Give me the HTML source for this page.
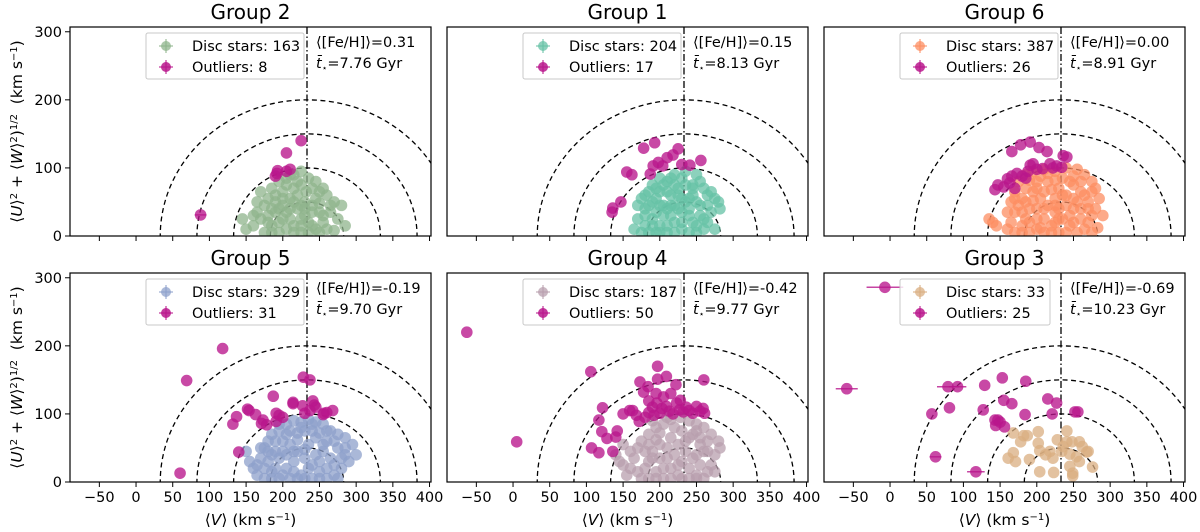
<!DOCTYPE html>
<html><head><meta charset="utf-8"><style>
html,body{margin:0;padding:0;background:#fff;width:1200px;height:532px;overflow:hidden}
svg{display:block;font-family:"DejaVu Sans","Liberation Sans",sans-serif}
</style></head><body>
<svg id="chart" width="1200" height="532" viewBox="0 0 1200 532" xmlns="http://www.w3.org/2000/svg"></svg>
<script>
// ---- data ----
const panelTitles = ["Group 2","Group 1","Group 6","Group 5","Group 4","Group 3"];
const discCounts = [163,204,387,329,187,33];
const outlierCounts = [8,17,26,31,50,25];
const fehValues = ["0.31","0.15","0.00","-0.19","-0.42","-0.69"];
const ageValues = ["7.76","8.13","8.91","9.70","9.77","10.23"];
const discColors = ["#8fb48c","#66c2a5","#fc8d62","#8da0cb","#b89fae","#d9ad80"];
const xTicks = [-50,0,50,100,150,200,250,300,350,400];
const yTicks = [0,100,200,300];
const circleRadii = [50,100,150,200];
const vLsr = 233;

const disc2 = [[150,10],[160,15],[145,25],[165,35],[175,45],[180,55],[170,65],[185,70],[195,80],[205,85],[215,90],[225,75],[235,85],[240,70],[250,65],[260,60],[270,50],[280,45],[285,15],[275,25],[265,35],[255,20],[245,10],[235,5],[225,15],[215,5],[205,10],[195,20],[185,15],[175,5],[190,35],[200,45],[210,55],[220,40],[230,30],[240,45],[250,35],[210,25],[200,65],[220,60],[230,50],[190,50],[180,30],[245,55],[260,10],[170,25],[215,70],[235,20],[225,95],[205,35],
[185,5],[195,5],[225,5],[250,5],[270,8],[180,20],[200,25],[215,15],[225,25],[240,15],[255,30],[265,45],[190,60],[205,75],[220,80],[232,65],[245,80],[210,40],[195,40],[185,40],[225,45],[240,35],[250,48],[215,50],[200,55],[230,40],[160,30],[165,50],[255,70],[210,90]];
const out2 = [[190,88],[192,92],[193,96],[205,122],[205,95],[210,98],[225,140],[88,31]];
const outErr2 = [0,0,0,0,0,0,0,8];

const disc1 = [[165,10],[175,5],[170,25],[180,40],[175,55],[185,65],[190,75],[200,85],[210,80],[220,90],[235,95],[250,90],[255,80],[260,70],[265,60],[275,55],[280,50],[282,40],[270,35],[260,25],[250,15],[240,5],[230,10],[220,20],[210,5],[200,15],[190,25],[185,45],[195,55],[205,45],[215,60],[225,70],[235,50],[245,60],[255,45],[240,30],[230,35],[220,45],[200,65],[205,30],[265,20],[275,10],[215,30],[245,75],[180,15],
[185,5],[195,5],[200,5],[220,5],[250,5],[260,10],[190,15],[210,15],[230,20],[245,20],[255,30],[180,30],[195,35],[210,40],[225,40],[240,40],[250,50],[190,50],[200,45],[215,45],[230,55],[240,55],[195,70],[210,65],[225,60],[245,70],[205,75],[220,75],[235,75],[230,85],[215,85],[180,60],[170,45],[265,45],[270,65]];
const out1 = [[178,129],[193,137],[225,128],[218,119],[210,115],[191,103],[204,103],[230,105],[241,104],[256,111],[155,94],[162,90],[187,91],[136,41],[147,50],[135,35],[198,108]];

const disc6 = [[135,25],[140,20],[145,15],[160,10],[170,5],[165,20],[160,35],[165,50],[170,65],[175,80],[185,90],[195,95],[210,98],[225,95],[240,100],[255,98],[265,90],[275,80],[280,70],[285,55],[280,40],[275,30],[270,20],[265,10],[255,5],[245,15],[235,25],[225,35],[215,45],[205,55],[195,65],[185,50],[180,35],[190,20],[200,10],[210,25],[220,15],[230,5],[240,45],[250,55],[260,65],[250,75],[230,70],[215,80],[200,80],[190,40],[245,30],[260,40],[270,50],[210,65],[225,55],[235,85],[180,15],[175,45],[290,30],[283,12],
[180,5],[190,5],[210,5],[220,5],[240,5],[275,5],[185,25],[200,25],[225,20],[250,20],[260,25],[170,35],[200,40],[210,40],[230,40],[250,40],[270,40],[180,55],[195,52],[225,45],[240,60],[255,50],[265,60],[275,65],[185,70],[200,70],[220,68],[235,60],[245,80],[260,80],[190,82],[205,88],[225,82],[250,88],[215,92],[170,55],[230,25],[205,12]];
const out6 = [[166,124],[178,134],[191,138],[203,130],[214,124],[236,118],[241,116],[143,68],[147,75],[163,78],[166,88],[180,88],[191,104],[195,106],[208,99],[218,106],[227,103],[234,101],[173,92],[185,85],[160,84],[200,98],[170,70],[188,95],[222,100],[155,72]];

const disc5 = [[150,45],[155,30],[160,20],[165,10],[170,35],[175,50],[180,60],[185,70],[195,75],[205,85],[215,90],[225,88],[235,92],[245,88],[255,85],[265,75],[275,70],[285,65],[295,55],[300,40],[290,30],[280,20],[270,10],[260,5],[250,15],[240,25],[230,35],[220,45],[210,55],[200,60],[190,45],[180,30],[185,15],[195,5],[205,20],[215,30],[225,10],[235,55],[245,65],[255,45],[265,35],[275,50],[210,75],[195,35],[230,75],[250,30],[175,20],[260,60],[285,40],[240,5],[220,62],[205,40],
[175,5],[185,5],[210,5],[220,5],[230,5],[250,5],[275,5],[190,20],[200,10],[215,15],[235,20],[260,20],[270,25],[185,40],[200,45],[215,45],[230,48],[245,40],[255,55],[270,60],[190,60],[205,70],[220,72],[240,75],[250,72],[195,85],[225,80],[240,85],[260,75],[180,45],[170,50],[165,25],[285,50],[280,35]];
const out5 = [[60,13],[69,149],[118,196],[187,126],[152,107],[154,105],[163,99],[137,96],[132,85],[173,91],[171,86],[191,101],[195,98],[191,89],[214,117],[214,115],[227,112],[228,154],[237,150],[241,119],[243,113],[255,99],[256,101],[268,105],[140,44],[230,101],[260,102],[245,110],[200,95],[178,84],[237,105]];

const disc4 = [[140,40],[145,30],[150,25],[160,20],[170,15],[175,5],[165,35],[170,50],[175,60],[185,70],[195,80],[205,85],[215,92],[228,95],[240,90],[250,85],[260,80],[270,70],[280,60],[282,50],[275,40],[270,25],[265,15],[260,5],[250,10],[240,20],[230,30],[220,40],[210,50],[200,55],[190,45],[185,30],[195,15],[205,5],[215,20],[225,10],[235,60],[245,70],[255,55],[265,45],[250,40],[215,65],[200,35],[180,45],[230,75],[240,5],[155,10],[275,15],
[185,5],[195,5],[215,5],[230,5],[250,5],[180,20],[205,20],[225,25],[255,25],[190,35],[210,35],[235,45],[245,35],[260,45],[185,55],[195,62],[225,55],[240,65],[255,65],[200,72],[220,80],[250,75],[210,95],[190,90],[265,60],[160,45],[150,55]];
const out4 = [[-63,220],[5,59],[106,162],[197,170],[209,155],[197,151],[173,147],[184,140],[222,143],[260,150],[122,109],[117,91],[121,74],[107,50],[117,43],[128,64],[140,66],[136,45],[159,105],[163,105],[172,89],[185,102],[185,119],[196,116],[209,111],[223,116],[227,106],[200,101],[213,104],[250,111],[259,108],[245,101],[261,101],[232,103],[192,98],[205,125],[178,132],[215,130],[190,110],[218,100],[240,105],[168,98],[236,110],[180,95],[203,108],[228,120],[150,100],[142,75],[255,104],[195,130]];

const disc3 = [[168,72],[182,68],[178,59],[202,74],[202,57],[168,43],[161,35],[171,30],[190,33],[204,46],[218,45],[222,35],[204,15],[223,14],[241,75],[241,59],[248,59],[258,59],[236,52],[245,41],[254,37],[258,30],[268,44],[270,45],[276,22],[245,23],[249,13],[249,9],[234,45],[187,68],[228,62],[212,40],[262,52]];
const out3 = [[-7,286],[-59,137],[79,140],[92,140],[57,100],[81,109],[129,142],[153,153],[185,148],[155,120],[166,115],[127,106],[215,122],[227,116],[221,100],[184,99],[252,103],[256,103],[143,91],[147,91],[144,83],[156,81],[62,37],[117,15],[150,88]];
const outErr3 = [25,15,15,12,0,0,0,0,0,0,0,0,0,0,0,0,0,0,0,0,0,0,8,12,0];

const discSets = [disc2,disc1,disc6,disc5,disc4,disc3];
const outSets = [out2,out1,out6,out5,out4,out3];
const outErrSets = [outErr2,null,null,null,null,outErr3];

// ---- layout ----
const NS = "http://www.w3.org/2000/svg";
const svg = document.getElementById("chart");
const panelLefts = [70,447,824];
const panelTops = [27,273];
const PW = 361, PH = 209;
const XMIN = -90, XMAX = 402, YMIN = 0, YMAX = 307;
const OUTC = "#b8168c";
const MR = 5.8;

function mk(tag, attrs, parent){
  const e = document.createElementNS(NS, tag);
  for (const k in attrs) e.setAttribute(k, attrs[k]);
  (parent||svg).appendChild(e);
  return e;
}
const defs = mk("defs",{});

for (let p = 0; p < 6; p++){
  const col = p % 3, row = Math.floor(p / 3);
  const L = panelLefts[col], T = panelTops[row];
  const sx = v => L + (v - XMIN) / (XMAX - XMIN) * PW;
  const sy = r => T + PH - (r - YMIN) / (YMAX - YMIN) * PH;
  const g = mk("g", {});
  
  

  const cp = mk("clipPath", {id: "clip" + p}, defs);
  mk("rect", {x: L, y: T, width: PW, height: PH}, cp);

  const title = mk("text", {x: L + PW/2, y: T - 8, "text-anchor": "middle", "font-size": 20, fill: "#000"}, g);
  title.textContent = panelTitles[p];
  
  

  const clipG = mk("g", {"clip-path": "url(#clip" + p + ")"}, g);
  circleRadii.forEach(r => {
    const rx = sx(r) - sx(0), ry = sy(0) - sy(r);
    const c = mk("ellipse", {cx: sx(vLsr), cy: sy(0), rx: rx, ry: ry, fill: "none", stroke: "#000", "stroke-width": 1.3, "stroke-dasharray": "5,3.5"}, clipG);
    
    
  });
  const vl = mk("line", {x1: sx(vLsr), x2: sx(vLsr), y1: T, y2: T + PH, stroke: "#000", "stroke-width": 1.3, "stroke-dasharray": "7,2.5,1.5,2.5"}, clipG);
  
  

  discSets[p].forEach(d => {
    const c = mk("circle", {cx: sx(d[0]), cy: sy(d[1]), r: MR, fill: discColors[p], "fill-opacity": 0.75}, clipG);
    
    
  });
  const errs = outErrSets[p];
  outSets[p].forEach((d, i) => {
    const e = errs ? errs[i] : 0;
    if (e > 0){
      const l = mk("line", {x1: sx(d[0]-e), x2: sx(d[0]+e), y1: sy(d[1]), y2: sy(d[1]), stroke: OUTC, "stroke-width": 1.5, "stroke-opacity": 0.8}, clipG);
      
      
    }
    const c = mk("circle", {cx: sx(d[0]), cy: sy(d[1]), r: MR, fill: OUTC, "fill-opacity": 0.78}, clipG);
    
    
  });

  const fr = mk("rect", {x: L, y: T, width: PW, height: PH, fill: "none", stroke: "#000", "stroke-width": 1.2}, g);
  
  

  xTicks.forEach(t => {
    const x = sx(t);
    mk("line", {x1: x, x2: x, y1: T + PH, y2: T + PH + 5, stroke: "#000", "stroke-width": 1}, g);
    if (row === 1){
      const tl = mk("text", {x: x, y: T + PH + 20, "text-anchor": "middle", "font-size": 14.5, fill: "#000"}, g);
      tl.textContent = t < 0 ? "\u2212" + Math.abs(t) : String(t);
      
      
    }
  });
  if (row === 1){
    const xl = mk("text", {x: L + PW/2, y: T + PH + 43, "text-anchor": "middle", "font-size": 15.5, fill: "#000"}, g);
    xl.innerHTML = '\u27E8<tspan font-style="italic">V</tspan>\u27E9 (km s<tspan baseline-shift="super" font-size="10">\u22121</tspan>)';
    
    
  }
  if (col === 0){
    yTicks.forEach(t => {
      const y = sy(t);
      mk("line", {x1: L - 5, x2: L, y1: y, y2: y, stroke: "#000", "stroke-width": 1}, g);
      const tl = mk("text", {x: L - 8, y: y + 5, "text-anchor": "end", "font-size": 14.5, fill: "#000"}, g);
      tl.textContent = String(t);
      
      
    });
    const yl = mk("text", {x: 0, y: 0, "text-anchor": "middle", "font-size": 15.5, fill: "#000", transform: "translate(22," + (T + PH/2) + ") rotate(-90)"}, g);
    yl.innerHTML = '\u27E8<tspan font-style="italic">U</tspan>\u27E9<tspan baseline-shift="super" font-size="10">2</tspan> + \u27E8<tspan font-style="italic">W</tspan>\u27E9<tspan baseline-shift="super" font-size="10">2</tspan>)<tspan baseline-shift="super" font-size="10">1/2</tspan>\u00A0\u00A0(km s<tspan baseline-shift="super" font-size="10">\u22121</tspan>)';
    
    
  }

  const lg = mk("g", {}, g);
  
  
  const lx = L + 76;
  const lw = (p === 5) ? 150 : 158;
  mk("rect", {x: lx, y: T + 6, width: lw, height: 46, fill: "#fff", "fill-opacity": 0.8, stroke: "#c8c8c8", "stroke-width": 1, rx: 2}, lg);
  [[discColors[p], "Disc stars: " + discCounts[p], 0.75], [OUTC, "Outliers: " + outlierCounts[p], 0.85]].forEach((it, i) => {
    const yy = T + 19 + i * 21;
    mk("line", {x1: lx + 20, x2: lx + 20, y1: yy - 7, y2: yy + 7, stroke: it[0], "stroke-width": 1.5, "stroke-opacity": 0.7}, lg);
    mk("line", {x1: lx + 13, x2: lx + 27, y1: yy, y2: yy, stroke: it[0], "stroke-width": 1.5, "stroke-opacity": 0.7}, lg);
    mk("circle", {cx: lx + 20, cy: yy, r: 5, fill: it[0], "fill-opacity": it[2]}, lg);
    const t = mk("text", {x: lx + 46, y: yy + 5, "font-size": 14.5, fill: "#000"}, lg);
    t.textContent = it[1];
    
    
  });

  const ax = L + 246;
  const a1 = mk("text", {x: ax, y: T + 20, "font-size": 14.5, fill: "#000"}, g);
  a1.textContent = "\u27E8[Fe/H]\u27E9=" + fehValues[p];
  
  
  const a2 = mk("text", {x: ax, y: T + 41, "font-size": 14.5, fill: "#000"}, g);
  a2.innerHTML = '<tspan font-style="italic">t\u0304</tspan><tspan font-size="9" dy="3">\u22C6</tspan><tspan dy="-3">=' + ageValues[p] + ' Gyr</tspan>';
  
  
}
</script>
</body></html>
